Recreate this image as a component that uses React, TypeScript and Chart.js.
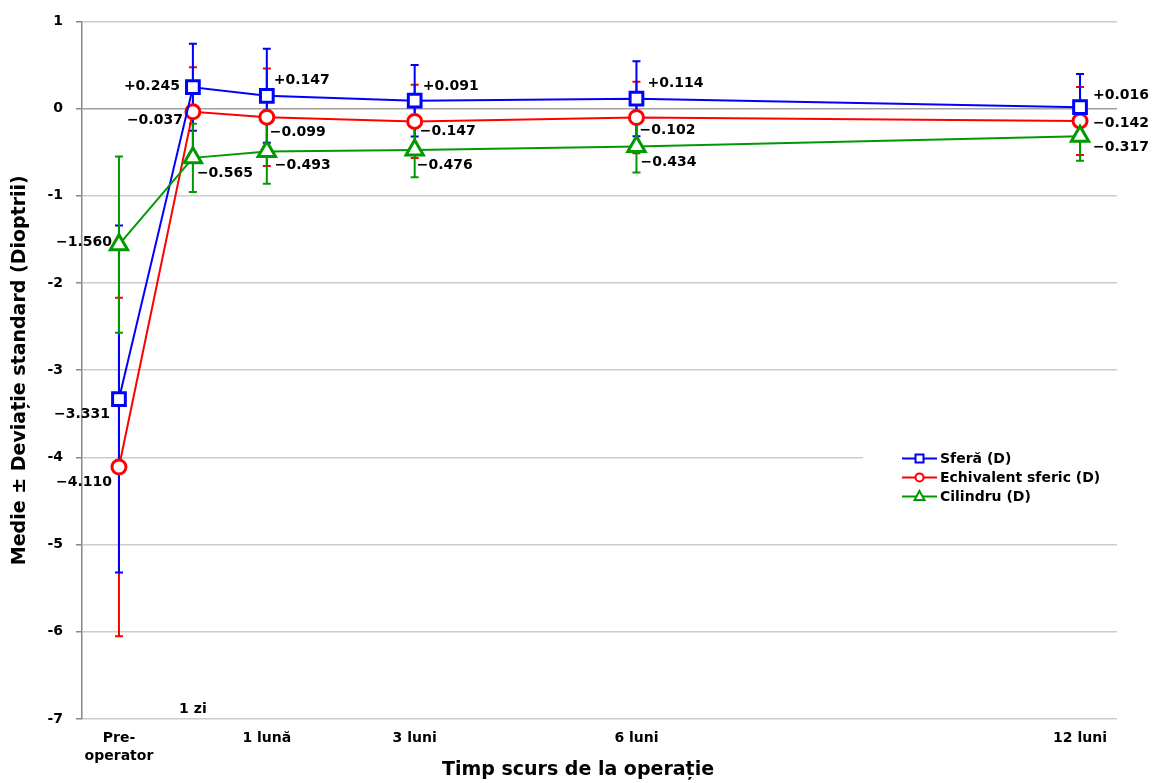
import React, { useEffect, useRef } from 'react';
import { Chart, registerables } from 'chart.js';

Chart.register(...registerables);

const FONT = "'DejaVu Sans', 'Liberation Sans', sans-serif";

// ---- data ----
const timeValues = [-1, 0, 1, 3, 6, 12];
const timeLabels: (string | string[])[] = [['Pre-', 'operator'], '1 zi', '1 lună', '3 luni', '6 luni', '12 luni'];
const yMin = -7;
const yMax = 1;
const yStep = 1;

const seriesNames = ['Sferă (D)', 'Echivalent sferic (D)', 'Cilindru (D)'];
const sferaMean = [-3.331, 0.245, 0.147, 0.091, 0.114, 0.016];
const sferaSD = [1.99, 0.5, 0.54, 0.41, 0.43, 0.38];
const echivMean = [-4.11, -0.037, -0.099, -0.147, -0.102, -0.142];
const echivSD = [1.94, 0.51, 0.56, 0.42, 0.41, 0.39];
const cilMean = [-1.56, -0.565, -0.493, -0.476, -0.434, -0.317];
const cilSD = [1.01, 0.39, 0.37, 0.31, 0.3, 0.28];

const xTitle = 'Timp scurs de la operație';
const yTitle = 'Medie ± Deviație standard (Dioptrii)';

// ---- styles ----
const colors = ['#0000ff', '#ff0000', '#009a00'];
const pointStyles = ['rect', 'circle', 'triangle'];
const pointRadii = [9, 7, 10];
const drawOrder = [2, 3, 1];
// label placement relative to the point: [dx, dy, align]
const labelPlacement: [number, number, string][][] = [
  [[-9, 15, 'r'], [-13, -1, 'r'], [7, -15, 'l'], [8, -14, 'l'], [11, -15, 'l'], [13, -12, 'l']],
  [[-7, 15, 'r'], [-10, 9, 'r'], [3, 15, 'l'], [5, 10, 'l'], [3, 13, 'l'], [13, 2, 'l']],
  [[-7, -2, 'r'], [4, 15, 'l'], [8, 14, 'l'], [2, 15, 'l'], [4, 16, 'l'], [13, 11, 'l']],
];

const means = [sferaMean, echivMean, cilMean];
const sds = [sferaSD, echivSD, cilSD];

const fmt = (v: number) => (v > 0 ? '+' : '\u2212') + Math.abs(v).toFixed(3);

const errorBarPlugin = {
  id: 'errorBars',
  beforeDatasetsDraw(chart: any) {
    const { ctx } = chart;
    const x = chart.scales.x;
    const y = chart.scales.y;
    ctx.save();
    for (const s of [1, 0, 2]) {
      ctx.strokeStyle = colors[s];
      ctx.lineWidth = 2;
      timeValues.forEach((tv, j) => {
        const px = x.getPixelForValue(tv);
        const top = y.getPixelForValue(means[s][j] + sds[s][j]);
        const bot = y.getPixelForValue(means[s][j] - sds[s][j]);
        ctx.beginPath();
        ctx.moveTo(px, top);
        ctx.lineTo(px, bot);
        ctx.moveTo(px - 4, top);
        ctx.lineTo(px + 4, top);
        ctx.moveTo(px - 4, bot);
        ctx.lineTo(px + 4, bot);
        ctx.stroke();
      });
    }
    ctx.restore();
  },
};

function drawMarker(ctx: CanvasRenderingContext2D, style: string, cx: number, cy: number, r: number) {
  ctx.beginPath();
  if (style === 'rect') {
    ctx.rect(cx - r, cy - r, 2 * r, 2 * r);
  } else if (style === 'circle') {
    ctx.arc(cx, cy, r, 0, Math.PI * 2);
  } else {
    ctx.moveTo(cx, cy - r * 1.1);
    ctx.lineTo(cx + r, cy + r * 0.7);
    ctx.lineTo(cx - r, cy + r * 0.7);
    ctx.closePath();
  }
  ctx.fillStyle = '#fff';
  ctx.fill();
  ctx.stroke();
}

const labelsPlugin = {
  id: 'extraText',
  afterDatasetsDraw(chart: any) {
    const { ctx, chartArea } = chart;
    ctx.save();
    ctx.font = `bold 14px ${FONT}`;
    ctx.fillStyle = '#000';
    ctx.textBaseline = 'middle';
    for (let s = 0; s < 3; s++) {
      const meta = chart.getDatasetMeta(s);
      meta.data.forEach((el: any, j: number) => {
        const [dx, dy, al] = labelPlacement[s][j];
        ctx.textAlign = al === 'r' ? 'right' : 'left';
        ctx.fillText(fmt(means[s][j]), el.x + dx, el.y + dy);
      });
    }
    // "1 zi" tick label sits above the axis
    const x = chart.scales.x;
    ctx.textAlign = 'center';
    ctx.fillText(timeLabels[1] as string, x.getPixelForValue(timeValues[1]), chartArea.bottom - 10);
    ctx.restore();
  },
  afterDraw(chart: any) {
    const { ctx, chartArea } = chart;
    ctx.save();
    // x axis title centred on the canvas
    ctx.font = `bold 19px ${FONT}`;
    ctx.fillStyle = '#000';
    ctx.textAlign = 'center';
    ctx.textBaseline = 'alphabetic';
    ctx.fillText(xTitle, chart.width / 2, chart.height - 8);

    // legend
    const boxLeft = chartArea.left + 781;
    const boxTop = chartArea.top + 425;
    ctx.fillStyle = '#fff';
    ctx.fillRect(boxLeft, boxTop, chartArea.right - boxLeft + 1, 62);
    const lx = chartArea.left + 820;
    ctx.font = `bold 14px ${FONT}`;
    ctx.textAlign = 'left';
    ctx.textBaseline = 'middle';
    const legendRadii = [4, 4, 5];
    seriesNames.forEach((name, i) => {
      const ly = chartArea.top + 437 + i * 19;
      ctx.strokeStyle = colors[i];
      ctx.lineWidth = 2;
      ctx.beginPath();
      ctx.moveTo(lx, ly);
      ctx.lineTo(lx + 35, ly);
      ctx.stroke();
      drawMarker(ctx, pointStyles[i], lx + 17.5, ly, legendRadii[i]);
      ctx.fillStyle = '#000';
      ctx.fillText(name, lx + 38, ly + 1);
    });
    ctx.restore();
  },
};

export default function App() {
  const ref = useRef<HTMLCanvasElement>(null);
  useEffect(() => {
    document.body.style.margin = '0';
    const datasets = seriesNames.map((name, s) => ({
      label: name,
      data: timeValues.map((tv, j) => ({ x: tv, y: means[s][j] })),
      borderColor: colors[s],
      backgroundColor: colors[s],
      borderWidth: 2,
      pointStyle: pointStyles[s],
      pointRadius: pointRadii[s],
      pointBorderWidth: 3,
      pointBorderColor: colors[s],
      pointBackgroundColor: '#ffffff',
      tension: 0,
      order: drawOrder[s],
      clip: false as any,
    }));
    const chart = new Chart(ref.current!, {
      type: 'line',
      data: { datasets },
      options: {
        responsive: false,
        animation: false,
        devicePixelRatio: 1,
        layout: { padding: { top: 17, right: 39, left: 0, bottom: 0 } },
        plugins: { legend: { display: false }, tooltip: { enabled: false } },
        scales: {
          x: {
            type: 'linear',
            min: -1.5,
            max: 12.5,
            afterFit: (s: any) => {
              s.height = 64;
            },
            afterBuildTicks: (s: any) => {
              s.ticks = timeValues.map((v) => ({ value: v }));
            },
            grid: { display: false, drawTicks: false },
            border: { display: false },
            ticks: {
              autoSkip: false,
              maxRotation: 0,
              padding: 10,
              color: '#000',
              font: { family: FONT, size: 14, weight: 'bold', lineHeight: 1.3 },
              callback: (v: any) => {
                const i = timeValues.indexOf(Number(v));
                return i === 1 || i < 0 ? '' : timeLabels[i];
              },
            },
          },
          y: {
            type: 'linear',
            min: yMin,
            max: yMax,
            afterFit: (s: any) => {
              s.width = 82;
            },
            ticks: {
              stepSize: yStep,
              padding: 13,
              color: '#000',
              font: { family: FONT, size: 14, weight: 'bold' },
            },
            grid: {
              color: (c: any) => (c.tick && c.tick.value === 0 ? '#a0a0a0' : '#cccccc'),
              lineWidth: 1.5,
              tickLength: 6,
              tickColor: '#888888',
            },
            border: { display: true, color: '#888888', width: 1.5 },
            title: {
              display: true,
              text: yTitle,
              color: '#000',
              font: { family: FONT, size: 19, weight: 'bold' },
              padding: { top: 9, bottom: 0 },
            },
          },
        },
      },
      plugins: [errorBarPlugin, labelsPlugin],
    } as any);
    return () => chart.destroy();
  }, []);
  return (
    <div style={{ width: 1156, height: 783 }}>
      <canvas ref={ref} width={1156} height={783} style={{ display: 'block' }} />
    </div>
  );
}
